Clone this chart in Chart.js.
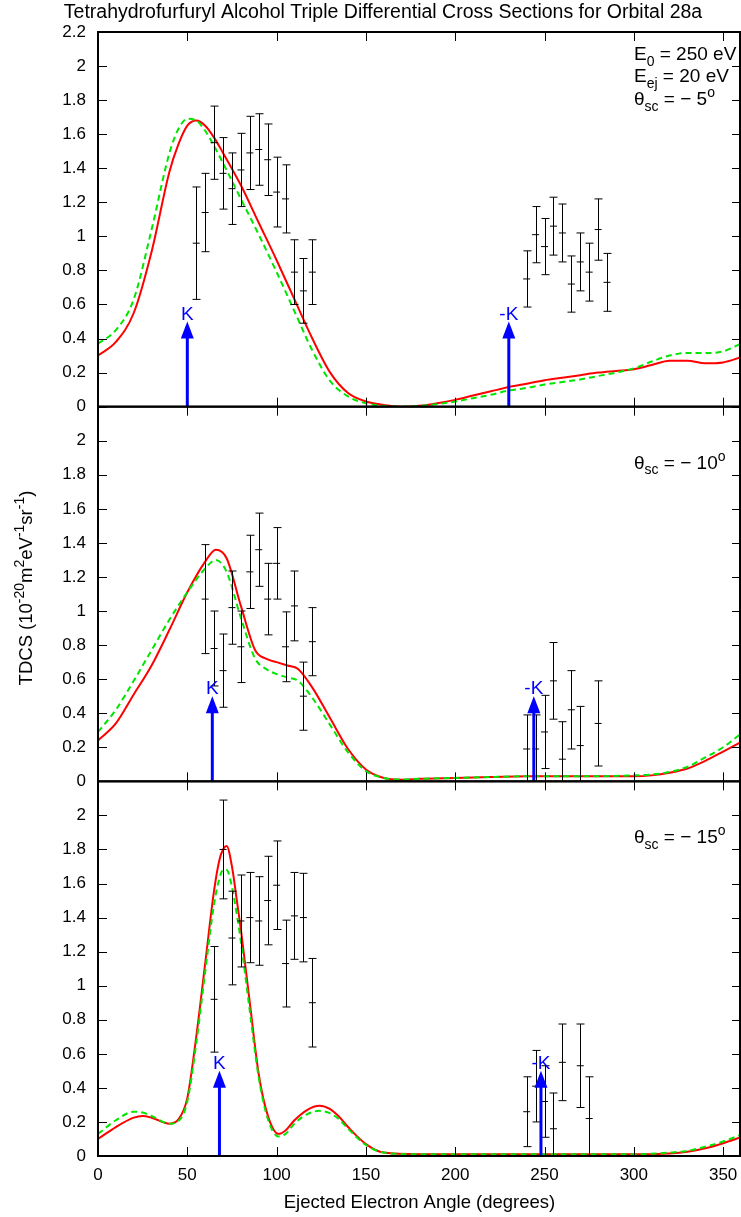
<!DOCTYPE html>
<html>
<head>
<meta charset="utf-8">
<title>TDCS Orbital 28a</title>
<script src="https://cdn.jsdelivr.net/npm/chart.js@4.4.1/dist/chart.umd.min.js"></script>
<style>
    html, body { margin: 0; padding: 0; background: #fff; }
    #wrap { width: 741px; height: 1217px; }
</style>
</head>
<body>
<div id="wrap"><canvas id="tdcsChart" width="741" height="1217"></canvas></div>
<script>
// THFA triple differential cross sections, orbital 28a
// three panels: theta_sc = -5, -10, -15 deg

const FONT = '"Liberation Sans", Arial, Helvetica, sans-serif';
const TICK_SIZE = 17;
const TEXT_SIZE = 19;

// axis ticks
const xTicks = [0, 50, 100, 150, 200, 250, 300, 350];
const yTicksTop = [0, 0.2, 0.4, 0.6, 0.8, 1, 1.2, 1.4, 1.6, 1.8, 2, 2.2];
const yTicksLower = [0, 0.2, 0.4, 0.6, 0.8, 1, 1.2, 1.4, 1.6, 1.8, 2];

// ---- theta_sc = -5 ----
const p1CurveAngles = [0, 10, 20, 30, 40, 45, 50, 55, 60, 65, 70, 80, 90, 100, 110, 120, 130, 140, 150, 160,
    170, 180, 190, 200, 210, 220, 230, 240, 250, 260, 270, 280, 290, 300, 310, 320, 330, 340, 350, 360];
const p1Red = [0.30, 0.38, 0.55, 0.91, 1.38, 1.54, 1.65, 1.68, 1.65, 1.58, 1.49, 1.30, 1.08, 0.86, 0.63, 0.40, 0.20, 0.08, 0.03, 0.01,
    0.00, 0.005, 0.02, 0.04, 0.065, 0.09, 0.115, 0.135, 0.155, 0.17, 0.185, 0.20, 0.21, 0.22, 0.245, 0.27, 0.27, 0.255, 0.26, 0.29];
const p1Green = [0.37, 0.45, 0.63, 1.04, 1.49, 1.63, 1.69, 1.68, 1.62, 1.53, 1.43, 1.22, 1.01, 0.79, 0.56, 0.33, 0.15, 0.06, 0.02, 0.005,
    0.0, 0.005, 0.015, 0.03, 0.05, 0.07, 0.095, 0.11, 0.13, 0.145, 0.16, 0.18, 0.20, 0.225, 0.265, 0.30, 0.315, 0.315, 0.325, 0.37];
const p1ExpAngles = [55, 60, 65, 70, 75, 80, 85, 90, 95, 100, 105, 110, 115, 120, 240, 245, 250, 255, 260, 265, 270, 275, 280, 285];
const p1Exp = [0.96, 1.14, 1.55, 1.37, 1.28, 1.39, 1.49, 1.51, 1.45, 1.26, 1.22, 0.79, 0.68, 0.79,
    0.75, 1.01, 0.94, 1.06, 1.02, 0.72, 0.85, 0.79, 1.04, 0.73];
const p1Err = [0.33, 0.23, 0.215, 0.21, 0.21, 0.215, 0.215, 0.21, 0.21, 0.205, 0.2, 0.19, 0.19, 0.19,
    0.165, 0.165, 0.165, 0.17, 0.17, 0.165, 0.17, 0.17, 0.18, 0.17];

// ---- theta_sc = -10 ----
const p2CurveAngles = [0, 10, 20, 30, 40, 50, 60, 66, 72, 80, 88, 94, 100, 106, 112, 120, 130, 140, 150, 160,
    170, 180, 200, 220, 240, 260, 280, 300, 310, 320, 330, 340, 350, 360];
const p2Red = [0.24, 0.34, 0.51, 0.68, 0.89, 1.11, 1.29, 1.36, 1.31, 1.03, 0.77, 0.72, 0.70, 0.68, 0.66, 0.55, 0.37, 0.19, 0.07, 0.02,
    0.01, 0.015, 0.02, 0.025, 0.03, 0.03, 0.03, 0.03, 0.035, 0.05, 0.075, 0.12, 0.175, 0.23];
const p2Green = [0.29, 0.42, 0.59, 0.77, 0.95, 1.11, 1.25, 1.30, 1.23, 0.96, 0.72, 0.66, 0.63, 0.61, 0.59, 0.49, 0.33, 0.17, 0.06, 0.02,
    0.01, 0.015, 0.02, 0.025, 0.03, 0.03, 0.03, 0.035, 0.04, 0.055, 0.085, 0.14, 0.20, 0.28];
const p2ExpAngles = [60, 65, 70, 75, 80, 85, 90, 95, 100, 105, 110, 115, 120, 240, 245, 250, 255, 260, 265, 270, 280];
const p2Exp = [1.07, 0.78, 0.65, 1.02, 0.79, 1.23, 1.36, 1.07, 1.28, 0.79, 1.03, 0.50, 0.82,
    0.19, 0.19, 0.29, 0.59, 0.13, 0.42, 0.21, 0.34];
const p2Err = [0.32, 0.22, 0.215, 0.215, 0.21, 0.215, 0.215, 0.21, 0.21, 0.205, 0.205, 0.2, 0.2,
    0.2, 0.2, 0.215, 0.225, 0.22, 0.23, 0.23, 0.25];

// ---- theta_sc = -15 ----
const p3CurveAngles = [0, 10, 20, 25, 30, 40, 45, 50, 55, 60, 65, 68, 70, 72, 75, 78, 80, 85, 90, 95, 101, 105, 110, 117,
    124, 130, 135, 140, 150, 160, 180, 200, 220, 240, 260, 280, 300, 320, 330, 340, 350, 360];
const p3Red = [0.10, 0.17, 0.225, 0.235, 0.225, 0.19, 0.215, 0.34, 0.70, 1.13, 1.56, 1.74, 1.80, 1.82, 1.70, 1.48, 1.33, 0.90, 0.48, 0.24,
    0.13, 0.15, 0.21, 0.27, 0.295, 0.275, 0.23, 0.17, 0.07, 0.02, 0.01, 0.01, 0.01, 0.01, 0.01, 0.01, 0.01, 0.015, 0.025, 0.045, 0.075, 0.11];
const p3Green = [0.13, 0.21, 0.26, 0.255, 0.235, 0.19, 0.205, 0.32, 0.66, 1.08, 1.48, 1.63, 1.68, 1.68, 1.58, 1.40, 1.26, 0.85, 0.46, 0.22,
    0.115, 0.13, 0.19, 0.245, 0.265, 0.25, 0.215, 0.16, 0.065, 0.02, 0.01, 0.01, 0.01, 0.01, 0.01, 0.01, 0.01, 0.02, 0.03, 0.055, 0.085, 0.125];
const p3ExpAngles = [65, 70, 75, 80, 85, 90, 95, 100, 105, 110, 115, 120, 240, 245, 250, 255, 260, 270, 275];
const p3Exp = [0.92, 1.80, 1.28, 1.38, 1.40, 1.38, 1.50, 1.59, 1.13, 1.41, 1.40, 0.90,
    0.26, 0.41, 0.32, 0.16, 0.55, 0.53, 0.22];
const p3Err = [0.31, 0.29, 0.275, 0.27, 0.265, 0.26, 0.26, 0.26, 0.255, 0.255, 0.26, 0.26,
    0.205, 0.21, 0.21, 0.21, 0.225, 0.245, 0.245];

// momentum transfer directions (K and -K), one per panel
const kAngles = [50, 64, 68];
const minusKAngles = [230, 244, 248];
const arrowTip = 0.5;

const thetaLabels = ['5', '10', '15'];

// panels top -> bottom
const panels = [
    { axis: 'yTop', curveAngles: p1CurveAngles, red: p1Red, green: p1Green, expAngles: p1ExpAngles, exp: p1Exp, err: p1Err },
    { axis: 'yMid', curveAngles: p2CurveAngles, red: p2Red, green: p2Green, expAngles: p2ExpAngles, exp: p2Exp, err: p2Err },
    { axis: 'yBot', curveAngles: p3CurveAngles, red: p3Red, green: p3Green, expAngles: p3ExpAngles, exp: p3Exp, err: p3Err }
];

function toPoints(angles, values) {
    return angles.map((a, i) => ({ x: a, y: values[i] }));
}

// text with sub/superscripts
function partFont(mode, size) {
    return (mode ? Math.round(size * 0.76) : size) + 'px ' + FONT;
}

function drawRich(ctx, parts, x, y, size, align) {
    let w = 0;
    parts.forEach(([txt, mode]) => {
        ctx.font = partFont(mode, size);
        w += ctx.measureText(txt).width;
    });
    let cx = align === 'center' ? x - w / 2 : (align === 'right' ? x - w : x);
    ctx.textAlign = 'left';
    ctx.textBaseline = 'alphabetic';
    parts.forEach(([txt, mode]) => {
        ctx.font = partFont(mode, size);
        const dy = mode === 'sup' ? -size * 0.42 : (mode === 'sub' ? size * 0.3 : 0);
        ctx.fillText(txt, cx, y + dy);
        cx += ctx.measureText(txt).width;
    });
}

// datasets: first in list is drawn on top
const datasets = [];
panels.forEach(p => {
    datasets.push({
        label: 'experiment',
        data: toPoints(p.expAngles, p.exp),
        yAxisID: p.axis,
        showLine: false,
        pointStyle: 'line',
        pointRadius: 3.5,
        borderColor: '#000',
        backgroundColor: '#000',
        borderWidth: 1
    });
});
panels.forEach(p => {
    datasets.push({
        label: 'green',
        data: toPoints(p.curveAngles, p.green),
        yAxisID: p.axis,
        showLine: true,
        pointRadius: 0,
        borderColor: '#00e600',
        borderWidth: 2,
        borderDash: [6, 4],
        cubicInterpolationMode: 'monotone'
    });
});
panels.forEach(p => {
    datasets.push({
        label: 'red',
        data: toPoints(p.curveAngles, p.red),
        yAxisID: p.axis,
        showLine: true,
        pointRadius: 0,
        borderColor: '#ff0000',
        borderWidth: 2,
        cubicInterpolationMode: 'monotone'
    });
});

function yScale(tickValues) {
    return {
        type: 'linear',
        position: 'left',
        stack: 'panels',
        stackWeight: 1,
        min: 0,
        max: 2.2,
        grid: { display: false, drawTicks: false },
        border: { display: false },
        afterBuildTicks: s => { s.ticks = tickValues.map(v => ({ value: v })); },
        afterFit: s => { s.width = 98; },
        ticks: {
            autoSkip: false,
            padding: 12,
            color: '#000',
            font: { family: FONT, size: TICK_SIZE },
            callback: v => String(v)
        }
    };
}

// frame, inward tick marks, error bars, arrows, texts
const decorations = {
    id: 'decorations',
    afterDatasetsDraw(chart) {
        const ctx = chart.ctx;
        const xs = chart.scales.x;
        ctx.save();
        panels.forEach((p, idx) => {
            const ys = chart.scales[p.axis];
            // error bars
            ctx.strokeStyle = '#000';
            ctx.lineWidth = 1;
            ctx.beginPath();
            p.expAngles.forEach((a, i) => {
                const px = Math.round(xs.getPixelForValue(a)) + 0.5;
                const lo = Math.max(0, p.exp[i] - p.err[i]);
                const hi = p.exp[i] + p.err[i];
                const yLo = ys.getPixelForValue(lo);
                const yHi = ys.getPixelForValue(hi);
                ctx.moveTo(px, yLo);
                ctx.lineTo(px, yHi);
                ctx.moveTo(px - 4, yHi);
                ctx.lineTo(px + 4, yHi);
                if (lo > 0) {
                    ctx.moveTo(px - 4, yLo);
                    ctx.lineTo(px + 4, yLo);
                }
            });
            ctx.stroke();

            // K and -K arrows
            [[kAngles[idx], 'K'], [minusKAngles[idx], '-K']].forEach(([a, lbl]) => {
                const px = xs.getPixelForValue(a);
                const y0 = ys.getPixelForValue(0);
                const yTip = ys.getPixelForValue(arrowTip);
                ctx.strokeStyle = '#0000ff';
                ctx.fillStyle = '#0000ff';
                ctx.lineWidth = 3;
                ctx.beginPath();
                ctx.moveTo(px, y0);
                ctx.lineTo(px, yTip + 12);
                ctx.stroke();
                ctx.beginPath();
                ctx.moveTo(px, yTip);
                ctx.lineTo(px - 6.5, yTip + 17);
                ctx.lineTo(px + 6.5, yTip + 17);
                ctx.closePath();
                ctx.fill();
                drawRich(ctx, [[lbl]], px, yTip - 2, TEXT_SIZE, 'center');
            });
        });
        ctx.restore();
    },
    afterDraw(chart) {
        const ctx = chart.ctx;
        const xs = chart.scales.x;
        const area = chart.chartArea;
        ctx.save();
        ctx.strokeStyle = '#000';
        ctx.fillStyle = '#000';
        panels.forEach((p, idx) => {
            const ys = chart.scales[p.axis];
            const top = ys.top, bottom = ys.bottom;
            // inward ticks
            ctx.lineWidth = 1;
            ctx.beginPath();
            ys.ticks.forEach(t => {
                const py = Math.round(ys.getPixelForValue(t.value)) + 0.5;
                ctx.moveTo(area.left, py);
                ctx.lineTo(area.left + 9, py);
                ctx.moveTo(area.right - 9, py);
                ctx.lineTo(area.right, py);
            });
            xs.ticks.forEach(t => {
                const px = Math.round(xs.getPixelForValue(t.value)) + 0.5;
                ctx.moveTo(px, top);
                ctx.lineTo(px, top + 9);
                ctx.moveTo(px, bottom);
                ctx.lineTo(px, bottom - 9);
            });
            ctx.stroke();
            // frame
            ctx.lineWidth = 2;
            ctx.strokeRect(area.left, top, area.right - area.left - 1, bottom - top);

            // panel annotation
            const tx = 634;
            if (idx === 0) {
                drawRich(ctx, [['E'], ['0', 'sub'], [' = 250 eV']], tx, top + 28, TEXT_SIZE, 'left');
                drawRich(ctx, [['E'], ['ej', 'sub'], [' = 20 eV']], tx, top + 50, TEXT_SIZE, 'left');
                drawRich(ctx, [['θ'], ['sc', 'sub'], [' = \u2212 ' + thetaLabels[idx]], ['o', 'sup']], tx, top + 73, TEXT_SIZE, 'left');
            } else {
                drawRich(ctx, [['θ'], ['sc', 'sub'], [' = \u2212 ' + thetaLabels[idx]], ['o', 'sup']], tx, top + 62, TEXT_SIZE, 'left');
            }
        });

        // titles
        drawRich(ctx, [['Tetrahydrofurfuryl Alcohol Triple Differential Cross Sections for Orbital 28a']], 383, 18, 19.5, 'center');
        drawRich(ctx, [['Ejected Electron Angle (degrees)']], (area.left + area.right) / 2, 1208, 18.5, 'center');
        ctx.translate(32, 588);
        ctx.rotate(-Math.PI / 2);
        drawRich(ctx, [['TDCS (10'], ['-20', 'sup'], ['m'], ['2', 'sup'], ['eV'], ['-1', 'sup'], ['sr'], ['-1', 'sup'], [')']],
            0, 0, 18.5, 'center');
        ctx.restore();
    }
};

const ctx = document.getElementById('tdcsChart').getContext('2d');
new Chart(ctx, {
    type: 'scatter',
    data: { datasets: datasets },
    options: {
        responsive: false,
        animation: false,
        events: [],
        devicePixelRatio: 1,
        layout: { autoPadding: false, padding: { top: 32, left: 0, right: 0, bottom: 0 } },
        plugins: {
            legend: { display: false },
            title: { display: false },
            tooltip: { enabled: false }
        },
        scales: {
            x: {
                type: 'linear',
                position: 'bottom',
                min: 0,
                max: 360,
                grid: { display: false, drawTicks: false },
                border: { display: false },
                afterBuildTicks: s => { s.ticks = xTicks.map(v => ({ value: v })); },
                afterFit: s => {
                    s.height = 61;
                    s.paddingLeft = 0;
                    s.paddingRight = 0;
                },
                ticks: {
                    autoSkip: false,
                    maxRotation: 0,
                    padding: 9,
                    color: '#000',
                    font: { family: FONT, size: TICK_SIZE }
                }
            },
            yBot: yScale(yTicksLower),
            yMid: yScale(yTicksLower),
            yTop: yScale(yTicksTop)
        }
    },
    plugins: [decorations]
});
</script>
</body>
</html>
